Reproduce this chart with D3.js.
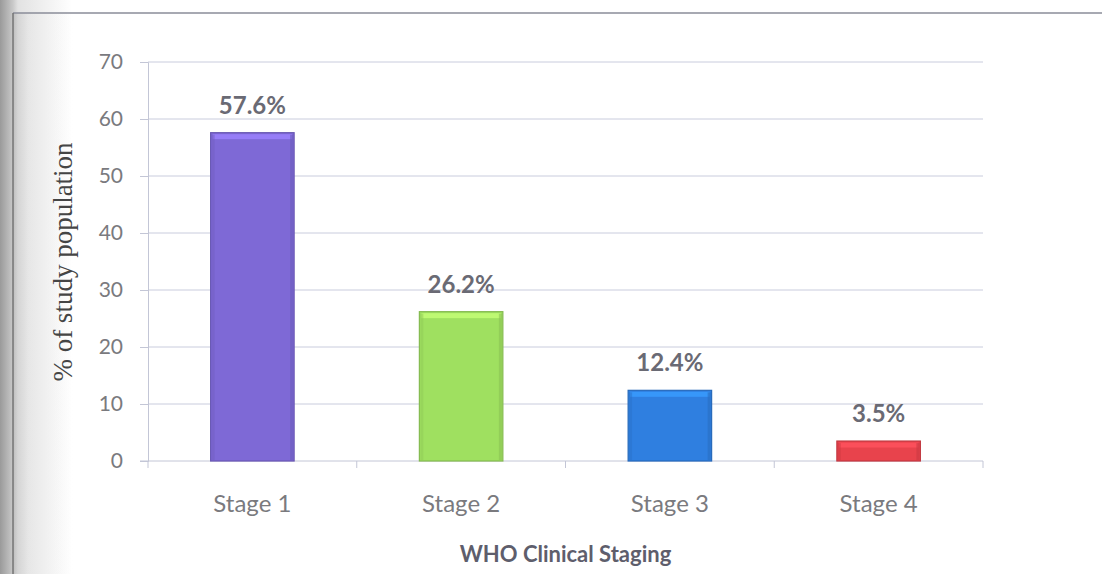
<!DOCTYPE html>
<html>
<head>
<meta charset="utf-8">
<script src="https://cdn.jsdelivr.net/npm/d3@7"></script>
<style>
  html, body { margin: 0; padding: 0; background: #fff; }
  svg { display: block; }
</style>
</head>
<body>
<svg id="chart" width="1102" height="574"></svg>
<script>
// WHO clinical staging of the study population (%)
const stages = ["Stage 1", "Stage 2", "Stage 3", "Stage 4"];
const percents = [57.6, 26.2, 12.4, 3.5];
const barColors = ["#7e69d6", "#9fe060", "#2f7fe0", "#e8434c"];
const yTicks = [0, 10, 20, 30, 40, 50, 60, 70];

const svg = d3.select("#chart");
const W = 1102, H = 574;
const plot = { left: 148, right: 983, top: 62, bottom: 461 };
const sans = "Lato, 'Open Sans', sans-serif";

// page edge shading on the left
const defs = svg.append("defs");
const edge = defs.append("linearGradient").attr("id", "edge").attr("x1", 0).attr("x2", 1);
edge.append("stop").attr("offset", "0").attr("stop-color", "#9a9a9a");
edge.append("stop").attr("offset", "0.18").attr("stop-color", "#c9c9c9");
edge.append("stop").attr("offset", "0.25").attr("stop-color", "#e2e2e2");
edge.append("stop").attr("offset", "1").attr("stop-color", "#ffffff");
svg.append("rect").attr("x", 0).attr("y", 0).attr("width", 72).attr("height", H).attr("fill", "url(#edge)");
svg.append("rect").attr("x", 13).attr("y", 13).attr("width", 60).attr("height", H).attr("fill", "url(#edge)").attr("opacity", 0.25);

// chart frame
svg.append("line").attr("x1", 13).attr("x2", W).attr("y1", 13).attr("y2", 13)
  .attr("stroke", "#8a8c98").attr("stroke-width", 1.6);
svg.append("line").attr("x1", 13).attr("x2", 13).attr("y1", 13).attr("y2", H)
  .attr("stroke", "#6f6f6f").attr("stroke-width", 1.4);

const x = d3.scaleBand().domain(stages).range([plot.left, plot.right]).paddingInner(0.6).paddingOuter(0.3);
const y = d3.scaleLinear().domain([0, 70]).range([plot.bottom, plot.top]);

// gridlines
svg.append("g").selectAll("line").data(yTicks.filter(d => d > 0)).join("line")
  .attr("x1", plot.left).attr("x2", plot.right)
  .attr("y1", d => y(d)).attr("y2", d => y(d))
  .attr("stroke", "#c9ccdd").attr("stroke-width", 1);

// y axis
const yAxis = svg.append("g").attr("transform", `translate(${plot.left},0)`)
  .call(d3.axisLeft(y).tickValues(yTicks).tickSize(8).tickPadding(17));
yAxis.select(".domain").attr("stroke", "#c3c6d6");
yAxis.selectAll(".tick line").attr("stroke", "#c3c6d6");
yAxis.selectAll(".tick text").attr("fill", "#7a7a7e")
  .style("font-family", sans).style("font-size", "21px");

// x axis with band-boundary ticks
const xAxis = svg.append("g").attr("transform", `translate(0,${plot.bottom})`);
xAxis.append("line").attr("x1", plot.left - 8).attr("x2", plot.right).attr("y1", 0).attr("y2", 0)
  .attr("stroke", "#c3c6d6");
const step = x.step();
const bounds = d3.range(stages.length + 1).map(i => plot.left + i * step);
xAxis.selectAll("line.bt").data(bounds).join("line").attr("class", "bt")
  .attr("x1", d => d).attr("x2", d => d).attr("y1", 0).attr("y2", 7)
  .attr("stroke", "#c3c6d6");
xAxis.selectAll("text").data(stages).join("text")
  .attr("x", d => x(d) + x.bandwidth() / 2).attr("y", 51)
  .attr("text-anchor", "middle").attr("fill", "#7a7a7e")
  .style("font-family", sans).style("font-size", "24px")
  .text(d => d);

// bars with a bevelled look
const bars = svg.append("g").selectAll("g").data(stages).join("g");
bars.append("rect")
  .attr("x", d => x(d)).attr("y", (d, i) => y(percents[i]))
  .attr("width", x.bandwidth()).attr("height", (d, i) => plot.bottom - y(percents[i]))
  .attr("fill", (d, i) => barColors[i])
  .attr("stroke", (d, i) => d3.color(barColors[i]).darker(0.5)).attr("stroke-width", 1.2);
bars.append("rect")
  .attr("x", d => x(d) + 2).attr("y", (d, i) => y(percents[i]) + 1.5)
  .attr("width", x.bandwidth() - 4).attr("height", 5)
  .attr("fill", (d, i) => d3.color(barColors[i]).brighter(0.6)).attr("opacity", 0.8);
bars.append("rect")
  .attr("x", d => x(d) + x.bandwidth() - 4).attr("y", (d, i) => y(percents[i]) + 2)
  .attr("width", 3).attr("height", (d, i) => Math.max(0, plot.bottom - y(percents[i]) - 3))
  .attr("fill", (d, i) => d3.color(barColors[i]).darker(0.4)).attr("opacity", 0.6);
bars.append("rect")
  .attr("x", d => x(d) + 1).attr("y", (d, i) => y(percents[i]) + 2)
  .attr("width", 3).attr("height", (d, i) => Math.max(0, plot.bottom - y(percents[i]) - 3))
  .attr("fill", (d, i) => d3.color(barColors[i]).darker(0.3)).attr("opacity", 0.5);

// value labels
svg.append("g").selectAll("text").data(stages).join("text")
  .attr("x", d => x(d) + x.bandwidth() / 2)
  .attr("y", (d, i) => y(percents[i]) - 19)
  .attr("text-anchor", "middle").attr("fill", "#6a6a74")
  .style("font-family", sans).style("font-size", "24px").style("font-weight", "bold")
  .text((d, i) => percents[i].toFixed(1) + "%");

// axis titles
svg.append("text")
  .attr("transform", `translate(72,262) rotate(-90)`)
  .attr("text-anchor", "middle").attr("fill", "#454545")
  .style("font-family", "'Liberation Serif', 'DejaVu Serif', serif").style("font-size", "27px")
  .text("% of study population");
svg.append("text")
  .attr("x", (plot.left + plot.right) / 2).attr("y", 562)
  .attr("text-anchor", "middle").attr("fill", "#5e5e6c")
  .style("font-family", sans).style("font-size", "22px").style("font-weight", "bold")
  .text("WHO Clinical Staging");
</script>
</body>
</html>
